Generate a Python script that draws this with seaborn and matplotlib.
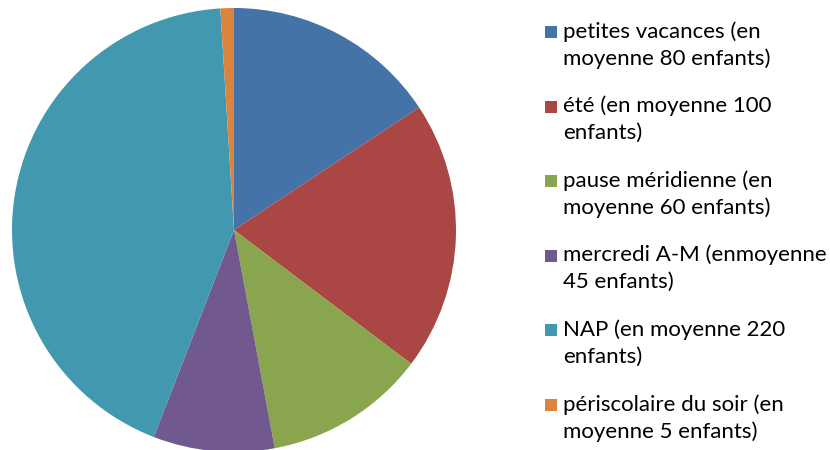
import matplotlib
matplotlib.use("Agg")
import matplotlib.pyplot as plt
import seaborn as sns
from matplotlib.patches import Rectangle

categories = [
    "petites vacances (en\nmoyenne 80 enfants)",
    "été (en moyenne 100\nenfants)",
    "pause méridienne (en\nmoyenne 60 enfants)",
    "mercredi A-M (enmoyenne\n45 enfants)",
    "NAP (en moyenne 220\nenfants)",
    "périscolaire du soir (en\nmoyenne 5 enfants)",
]
values = [80, 100, 60, 45, 220, 5]
colors = ["#4572A7", "#AA4643", "#89A54E", "#71588F", "#4198AF", "#DB843D"]

sns.set_theme(style="white")
plt.rcParams["font.family"] = ["Lato", "DejaVu Sans"]

W, H = 830, 450
fig = plt.figure(figsize=(W / 100, H / 100), dpi=100)
fig.patch.set_facecolor("white")

cx, cy, r = 234, 230, 222
ax = fig.add_axes([(cx - r) / W, (H - cy - r) / H, 2 * r / W, 2 * r / H])
ax.pie(values, colors=colors, startangle=90, counterclock=False,
       wedgeprops=dict(linewidth=0))
ax.set_xlim(-1, 1)
ax.set_ylim(-1, 1)
ax.set_aspect("equal")
ax.axis("off")

# legend drawn manually
y0 = 21
step = 74.6
for i, (lab, col) in enumerate(zip(categories, colors)):
    ytop = y0 + i * step
    fig.patches.append(Rectangle((545 / W, 1 - (ytop + 17) / H), 12 / W, 12 / H,
                                 transform=fig.transFigure, facecolor=col,
                                 edgecolor="none"))
    fig.text(563 / W, 1 - ytop / H, lab, fontsize=16, color="black",
             va="top", ha="left", linespacing=1.4)

fig.savefig("out.png", dpi=100)
